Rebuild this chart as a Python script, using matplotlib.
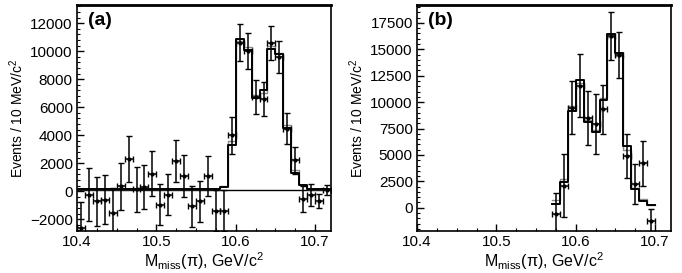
import numpy as np
import matplotlib
matplotlib.use("Agg")
import matplotlib.pyplot as plt
from matplotlib.ticker import MultipleLocator

plt.rcParams['font.family'] = ['Liberation Sans', 'DejaVu Sans']
plt.rcParams['mathtext.fontset'] = 'custom'
plt.rcParams['mathtext.rm'] = 'Liberation Sans'
plt.rcParams['mathtext.it'] = 'Liberation Sans:italic'

# panel (a) data, bins of 10 MeV from 10.40 to 10.72
a_x = [10.405 + 0.01 * i for i in range(32)]
a_y = [-2650, -260, -720, -600, -1580, 335, 2270, 120, 290, 1240, -960, -260,
       2150, 1075, -1075, -740, 1050, -1390, -1390, 3990, 10610, 10010, 6740,
       6570, 10560, 9610, 4470, 2200, -550, -260, -720, 50]
a_err = [1900, 1900, 1750, 1730, 1800, 1700, 1640, 1630, 1580, 1600, 1470, 1460,
         1500, 1500, 1470, 1460, 1430, 1460, 1460, 1330, 1310, 1260, 1230,
         1230, 1220, 1140, 1080, 980, 930, 780, 520, 360]
a_fit = [120, 120, 120, 120, 120, 120, 120, 120, 120, 120, 120, 120,
         120, 120, 120, 120, 120, 120, 290, 3320, 10870, 10090, 6670,
         7220, 10160, 9800, 4520, 1290, 410, 150, 150, 150]
a_fit2 = [120, 120, 120, 120, 120, 120, 120, 120, 120, 120, 120, 120,
          120, 120, 120, 120, 120, 120, 350, 3600, 10700, 10300, 6900,
          7000, 10400, 9900, 4700, 1500, 450, 180, 160, 150]
a_bkg = 100

# panel (b) data
b_x = [10.575 + 0.01 * i for i in range(13)]
b_y = [-620, 2080, 9490, 11570, 8490, 7930, 9330, 16265, 14460, 4880, 2240, 4200, -1240]
b_err = [2000, 2980, 2490, 2950, 2550, 2800, 2330, 2300, 2200, 2070, 1910, 2130, 1100]
b_fit = [400, 2400, 9170, 12130, 8090, 7150, 10170, 16420, 14620, 5820, 1770, 680, 250]
b_fit2 = [700, 2700, 9600, 11800, 8300, 7400, 10400, 16200, 14400, 5500, 1900, 800, 300]


def steps(xc, yv):
    edges = [x - 0.005 for x in xc] + [xc[-1] + 0.005]
    return edges, list(yv) + [yv[-1]]


def style(ax, ymaj, ymin, ylim):
    ax.set_xlim(10.40, 10.72)
    ax.set_ylim(*ylim)
    ax.xaxis.set_major_locator(MultipleLocator(0.1))
    ax.xaxis.set_minor_locator(MultipleLocator(0.025))
    ax.yaxis.set_major_locator(MultipleLocator(ymaj))
    ax.yaxis.set_minor_locator(MultipleLocator(ymin))
    ax.tick_params(which='both', direction='in', top=False, right=False, labelsize=11)
    ax.tick_params(which='major', length=5, width=1, pad=3)
    ax.tick_params(which='minor', length=2.5, width=0.8)
    ax.xaxis.set_major_formatter(plt.FuncFormatter(lambda v, p: '%.1f' % v))
    for s in ax.spines.values():
        s.set_linewidth(1.2)
    ax.spines['top'].set_linewidth(2)
    ax.set_xlabel(r'M$_{\mathregular{miss}}$(π), GeV/c$^2$', fontsize=11.5, labelpad=1)
    ax.set_ylabel(r'Events / 10 MeV/c$^2$', fontsize=10, labelpad=3)


fig = plt.figure(figsize=(6.82, 2.73), dpi=100)
ax1 = fig.add_axes([0.1129, 0.1538, 0.3724, 0.828])
ax2 = fig.add_axes([0.6114, 0.1538, 0.3724, 0.828])

# (a)
ax1.axhline(a_bkg, color='black', lw=1.0)
e, v = steps(a_x, a_fit2)
ax1.step(e, v, where='post', color='#888888', lw=1.0)
e, v = steps(a_x, a_fit)
ax1.step(e, v, where='post', color='black', lw=1.4)
ax1.errorbar(a_x, a_y, yerr=a_err, xerr=0.005, fmt='o', ms=2, color='black',
             ecolor='black', elinewidth=1.1, capsize=2, capthick=1)
style(ax1, 2000, 400, (-2850, 13300))
ax1.text(0.045, 0.93, '(a)', transform=ax1.transAxes, fontsize=14,
         fontweight='bold', va='center')

# (b)
e, v = steps(b_x, b_fit2)
ax2.step(e, v, where='post', color='#888888', lw=1.0)
e, v = steps(b_x, b_fit)
ax2.step(e, v, where='post', color='black', lw=1.4)
ax2.errorbar(b_x, b_y, yerr=b_err, xerr=0.005, fmt='o', ms=2, color='black',
             ecolor='black', elinewidth=1.1, capsize=2, capthick=1)
style(ax2, 2500, 500, (-2200, 19200))
ax2.text(0.045, 0.93, '(b)', transform=ax2.transAxes, fontsize=14,
         fontweight='bold', va='center')

fig.savefig('out.png', dpi=100)
